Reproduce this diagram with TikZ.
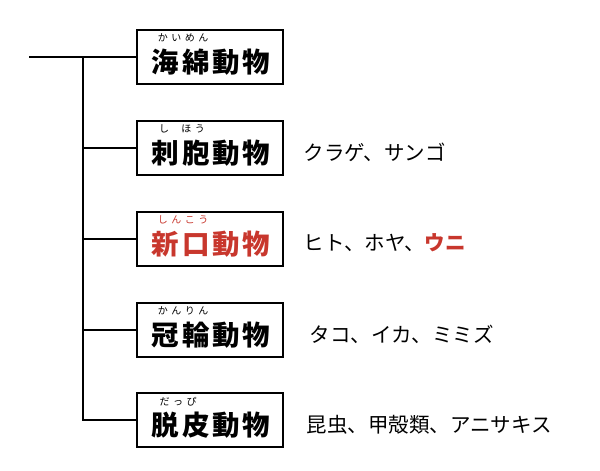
\documentclass[tikz,border=0pt]{standalone}
\usepackage{fontspec}
\newfontfamily\jp{Noto Sans CJK JP}
\newfontfamily\jpwide[LetterSpace=10]{Noto Sans CJK JP}
\newfontfamily\jpruby[LetterSpace=35]{Noto Sans CJK JP}
\definecolor{kred}{RGB}{200,55,45}
\begin{document}
\begin{tikzpicture}[x=1pt,y=-1pt,line width=1.4pt,
    group/.style={draw,minimum width=146pt,minimum height=54pt,inner sep=0pt},
    kanji/.style={font=\jpwide\bfseries\fontsize{27.5}{27.5}\selectfont,inner sep=0pt},
    ruby/.style={font=\jpruby\fontsize{10}{10}\selectfont,inner sep=0pt},
    member/.style={font=\jp\fontsize{20.5}{20.5}\selectfont,anchor=west,inner sep=0pt}]
    \useasboundingbox (0,0) rectangle (600,471);
    \coordinate (root) at (29,57);
    \coordinate (trunk) at (83,57);
    \foreach \i/\y/\name/\col in {1/57/海綿動物/black,2/148/刺胞動物/black,3/239/新口動物/kred,4/330/冠輪動物/black,5/420/脱皮動物/black}
    {
        \node[group] (g\i) at (210,\y) {};
        \node[kanji,text=\col] (k\i) at (211,\y+5) {\name};
        \draw (trunk) |- (g\i);
    }
    \draw (root) -- (g1);
    % furigana
    \node[ruby] (r1) at (183,38) {かいめん};
    \node[ruby] (r2a) at (164,129) {し};
    \node[ruby] (r2b) at (193,129) {ほう};
    \node[ruby,text=kred] (r3) at (183,220) {しんこう};
    \node[ruby] (r4) at (183,311) {かんりん};
    \node[ruby] (r5) at (178,402) {だっぴ};
    % examples
    \node[member] (m2) at (303,152) {クラゲ、サンゴ};
    \node[member] (m3) at (303,243) {ヒト、ホヤ、\textcolor{kred}{\bfseries ウニ}};
    \node[member] (m4) at (309,334) {タコ、イカ、ミミズ};
    \node[member] (m5) at (306,425) {昆虫、甲殻類、アニサキス};
\end{tikzpicture}
\end{document}
